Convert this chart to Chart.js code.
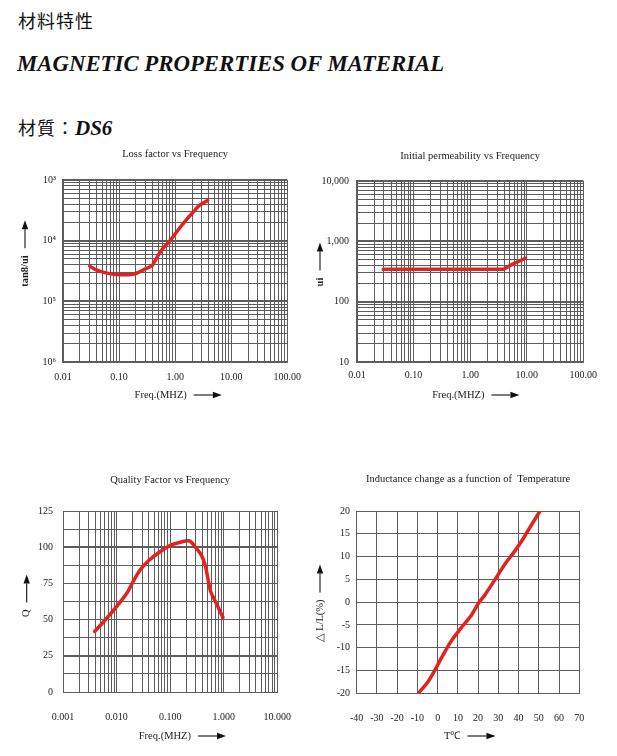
<!DOCTYPE html>
<html>
<head>
<meta charset="utf-8">
<script src="https://cdn.jsdelivr.net/npm/chart.js@4.4.1/dist/chart.umd.min.js"></script>
<style>
  body { margin:0; width:617px; height:756px; background:#fff; position:relative; overflow:hidden; color:#111; }
  .t { position:absolute; white-space:nowrap; }
  .cjk { font-family:'Noto Sans CJK TC','Noto Sans CJK SC',sans-serif; }
  .en { font-family:'Liberation Serif','Times New Roman',serif; font-weight:bold; font-style:italic; }
  .box { position:absolute; }
</style>
</head>
<body>
<div class="t cjk" style="left:18px;top:8px;font-size:18px;line-height:24px;letter-spacing:1px">材料特性</div>
<div class="t en" style="left:17px;top:51px;font-size:22.8px;line-height:26px">MAGNETIC PROPERTIES OF MATERIAL</div>
<div class="t" style="left:18px;top:114px;line-height:26px"><span class="cjk" style="font-size:18px;letter-spacing:1px">材質：</span><span class="en" style="font-size:21px">DS6</span></div>

<div class="box" style="left:0;top:140px;width:310px;height:270px"><canvas id="c-loss"></canvas></div>
<div class="box" style="left:300px;top:140px;width:304px;height:270px"><canvas id="c-perm"></canvas></div>
<div class="box" style="left:0;top:470px;width:310px;height:280px"><canvas id="c-q"></canvas></div>
<div class="box" style="left:300px;top:470px;width:303px;height:280px"><canvas id="c-temp"></canvas></div>

<script>
// Loss factor vs Frequency
const lossFreq = [0.030, 0.039, 0.058, 0.088, 0.13, 0.20, 0.29, 0.39, 0.44, 0.58, 0.81, 1.13, 1.58, 2.21, 2.71, 3.8];
const lossTan  = [3.8e-5, 3.3e-5, 2.95e-5, 2.77e-5, 2.74e-5, 2.88e-5, 3.4e-5, 3.9e-5, 4.7e-5, 7.1e-5, 1.0e-4, 1.5e-4, 2.2e-4, 3.1e-4, 3.8e-4, 4.6e-4];
const lossXLabels = ['0.01', '0.10', '1.00', '10.00', '100.00'];
const lossYLabels = ['10⁶', '10⁵', '10⁴', '10³'];

// Initial permeability vs Frequency
const permFreq = [0.029, 0.1, 1, 3.9, 5.4, 9.5];
const permUi   = [345, 345, 345, 345, 410, 525];
const permXLabels = ['0.01', '0.10', '1.00', '10.00', '100.00'];
const permYLabels = ['10', '100', '1,000', '10,000'];

// Quality Factor vs Frequency
const qFreq  = [0.0039, 0.0062, 0.010, 0.016, 0.0196, 0.0275, 0.041, 0.066, 0.099, 0.148, 0.231, 0.29, 0.38, 0.45, 0.52, 0.57, 0.70, 0.97];
const qValue = [41.8, 49.9, 59, 68.9, 75.1, 84.3, 91.2, 97, 101.1, 103.2, 104.3, 100.4, 94.7, 87.8, 76.3, 69.4, 62.5, 51.5];
const qXLabels = ['0.001', '0.010', '0.100', '1.000', '10.000'];

// Inductance change vs Temperature
const tempC  = [-9.5, -4.7, -0.6, 1.8, 6.6, 11.5, 16.3, 20.3, 23.5, 28.4, 33.2, 38.1, 42.1, 44.5, 50.6];
const tempDL = [-20, -17.4, -14.3, -12.3, -8.6, -5.7, -3.1, -0.15, 1.7, 5.0, 8.3, 11.2, 13.8, 15.6, 20];

const SERIF = "'Liberation Serif','Times New Roman',serif";
const INK = '#1a1a1a', GRID = '#5c5c5c', RED = '#e3211f';
const f = (size, weight) => ({ family: SERIF, size, weight: weight || 'normal', lineHeight: 1.2 });
const room = n => '\u00a0'.repeat(n);

function decadeTicks(e0, e1) {
  const out = [];
  for (let e = e0; e < e1; e++)
    for (let m = 1; m < 10; m++) out.push({ value: +(m * 10 ** e).toPrecision(6), major: m === 1 });
  out.push({ value: +(10 ** e1).toPrecision(6), major: true });
  return out;
}

// arrow drawn after each axis title (title text gets trailing nbsp room)
const axisArrows = {
  id: 'axisArrows',
  afterDraw(chart) {
    const ctx = chart.ctx;
    ['x', 'y'].forEach(id => {
      const s = chart.scales[id];
      const t = s.options.title;
      const font = Chart.helpers.toFont(t.font);
      const pad = Chart.helpers.toPadding(t.padding);
      ctx.save();
      ctx.font = font.string;
      const full = ctx.measureText(t.text).width;
      const word = ctx.measureText(t.text.trimEnd()).width;
      const gap = 7, len = 28, head = 9, half = 3.2;
      ctx.strokeStyle = ctx.fillStyle = '#111';
      ctx.lineWidth = 1.1;
      ctx.beginPath();
      if (s.isHorizontal()) {
        const cy = s.bottom - font.lineHeight / 2 - pad.bottom;
        const x0 = (s.left + s.right) / 2 - full / 2 + word + gap, x1 = x0 + len;
        ctx.moveTo(x0, cy); ctx.lineTo(x1 - head, cy); ctx.stroke();
        ctx.beginPath(); ctx.moveTo(x1, cy); ctx.lineTo(x1 - head, cy - half); ctx.lineTo(x1 - head, cy + half);
      } else {
        const cx = s.left + font.lineHeight / 2 + pad.top;
        const y0 = (s.top + s.bottom) / 2 + full / 2 - word - gap, y1 = y0 - len;
        ctx.moveTo(cx, y0); ctx.lineTo(cx, y1 + head); ctx.stroke();
        ctx.beginPath(); ctx.moveTo(cx, y1); ctx.lineTo(cx - half, y1 + head); ctx.lineTo(cx + half, y1 + head);
      }
      ctx.closePath(); ctx.fill();
      ctx.restore();
    });
  }
};

function logAxis(e0, e1, labels, o) {
  return {
    type: 'logarithmic', min: 10 ** e0, max: 10 ** e1,
    afterBuildTicks: s => { s.ticks = decadeTicks(e0, e1); },
    afterFit: s => { s[s.isHorizontal() ? 'height' : 'width'] = o.size; },
    ticks: { autoSkip: false, maxRotation: 0, padding: o.pad, color: INK, font: f(10),
      callback: (v, i, t) => t[i].major ? labels[Math.round(Math.log10(v)) - e0] : '' },
    grid: { drawTicks: false, color: GRID, lineWidth: c => (o.boldDecades && c.tick && c.tick.major) ? 2 : 1 },
    border: { color: GRID, width: o.boldDecades ? 2 : 1 },
    title: { display: true, text: o.title, color: INK, font: f(10.5, o.bold ? 'bold' : 'normal'), padding: o.tpad }
  };
}

function linAxis(min, max, step, o) {
  return {
    type: 'linear', min, max,
    afterFit: s => { s[s.isHorizontal() ? 'height' : 'width'] = o.size; },
    ticks: { stepSize: step, autoSkip: false, maxRotation: 0, padding: o.pad, color: INK, font: f(10),
      callback: v => (o.every ? (v % o.every === 0 ? String(v) : '') : String(v)) },
    grid: { drawTicks: false, color: GRID, lineWidth: c => (o.bold && c.tick && o.bold.includes(c.tick.value)) ? 2 : 1 },
    border: { color: GRID, width: 1 },
    title: { display: true, text: o.title, color: INK, font: f(10.5), padding: o.tpad }
  };
}

function curve(xs, ys, tension) {
  return {
    data: xs.map((x, i) => ({ x, y: ys[i] })),
    showLine: true, borderColor: RED, borderWidth: 3.5, pointRadius: 0, tension,
    borderCapStyle: 'round', borderJoinStyle: 'round'
  };
}

function build(id, title, titlePad, x, y, ds) {
  return new Chart(document.getElementById(id), {
    type: 'scatter',
    data: { datasets: [ds] },
    options: {
      responsive: true, maintainAspectRatio: false, animation: false,
      layout: { padding: { left: 0, top: 0, right: 20, bottom: 0 } },
      plugins: {
        legend: { display: false }, tooltip: { enabled: false },
        title: { display: true, fullSize: false, text: title, color: INK, font: f(10.5), padding: titlePad }
      },
      scales: { x, y }
    },
    plugins: [axisArrows]
  });
}

build('c-loss', 'Loss factor vs Frequency', { top: 7.7, bottom: 19.7 },
  logAxis(-2, 2, lossXLabels, { size: 48, pad: 9, title: 'Freq.(MHZ)' + room(11), tpad: { top: 0, bottom: 8.7 } }),
  logAxis(-6, -3, lossYLabels, { size: 63, pad: 7, title: 'tan8/ui', bold: true, boldDecades: true, tpad: { top: 18.7, bottom: 0 } }),
  curve(lossFreq, lossTan, 0.3));

build('c-perm', 'Initial permeability vs Frequency', { top: 9.7, bottom: 18.7 },
  logAxis(-2, 2, permXLabels, { size: 48, pad: 7, title: 'Freq.(MHZ)' + room(9), tpad: { top: 0, bottom: 8.7 } }),
  logAxis(1, 4, permYLabels, { size: 57, pad: 8, title: 'ui' + room(8), bold: true, boldDecades: true, tpad: { top: 13.7, bottom: 0 } }),
  curve(permFreq, permUi, 0));

build('c-q', 'Quality Factor vs Frequency', { top: 3.7, bottom: 24.7 },
  logAxis(-3, 1, qXLabels, { size: 58, pad: 19, title: 'Freq.(MHZ)' + room(4), tpad: { top: 0, bottom: 7.7 } }),
  linAxis(0, 125, 12.5, { size: 63, pad: 10, every: 25, bold: [25, 100], title: 'Q' + room(9), tpad: { top: 20.4, bottom: 0 } }),
  curve(qFreq, qValue, 0.3));

build('c-temp', 'Inductance change as a function of  Temperature', { top: 3, bottom: 25.4 },
  linAxis(-40, 70, 10, { size: 56.7, pad: 18.7, title: 'T℃' + room(12), tpad: { top: 0, bottom: 7.7 } }),
  linAxis(-20, 20, 5, { size: 56.7, pad: 6.7, title: '△ L/L(%)' + room(14), tpad: { top: 13.7, bottom: 0 } }),
  curve(tempC, tempDL, 0.3));
</script>
</body>
</html>
